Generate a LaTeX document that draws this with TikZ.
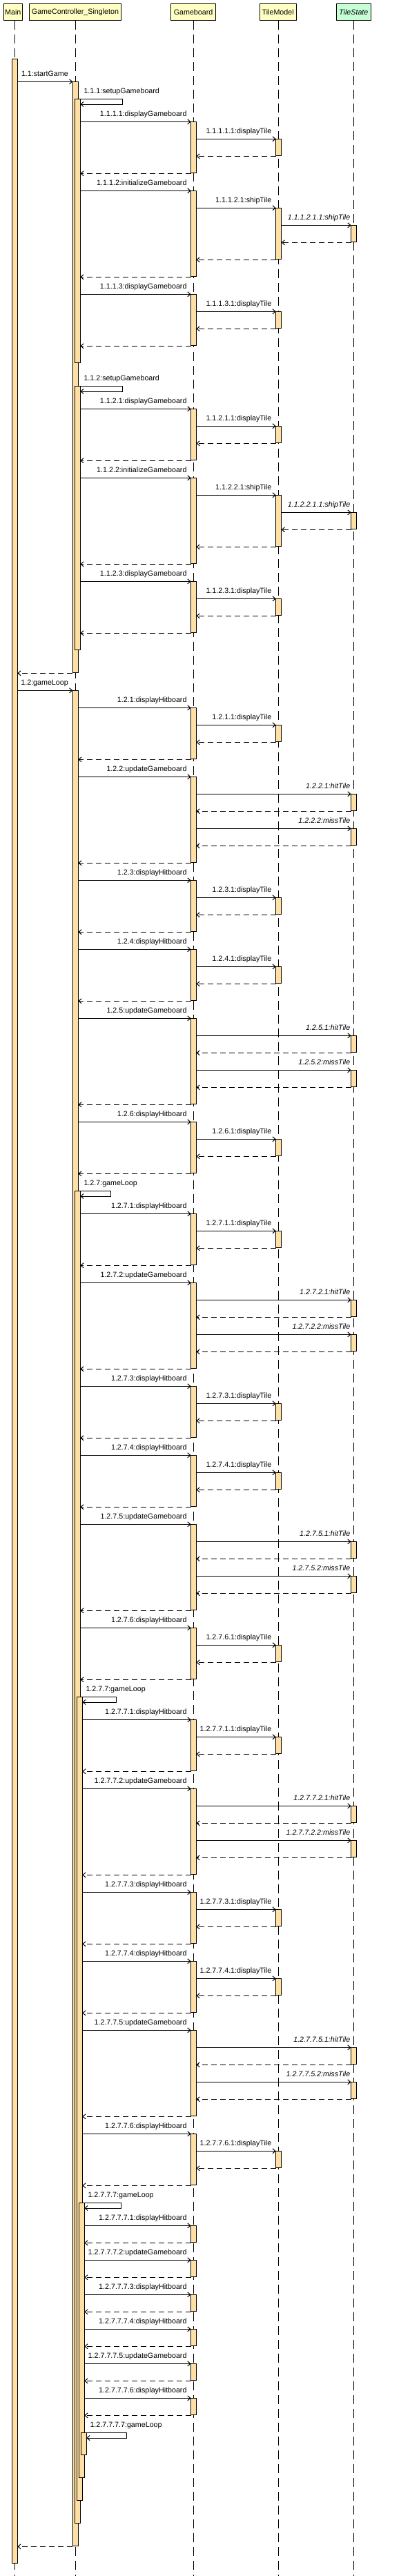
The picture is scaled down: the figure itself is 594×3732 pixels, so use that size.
\documentclass[tikz,border=0pt]{standalone}
\usepackage{fontspec}
\setmainfont{Liberation Sans}
\usetikzlibrary{arrows.meta}
\definecolor{barfill}{RGB}{255,224,164}
\definecolor{boxfill}{RGB}{255,255,196}
\definecolor{tsfill}{RGB}{198,255,214}
\newcommand\lbfont{\fontsize{10.7}{12}\selectfont}
\newcounter{mc}
\newcommand\myact[3]{\draw[act] (#1,#2) rectangle (#1+8,#3);}
\newcommand\mymsg[5]{%
  \stepcounter{mc}%
  \coordinate (s\themc) at (#2,#1);
  \coordinate (t\themc) at (#3,#1);
  \draw[msgline] (s\themc) -- (t\themc);
  \node[lbl] (l\themc) at (#5,#1-8) {#4};
}
\newcommand\myret[3]{%
  \stepcounter{mc}%
  \coordinate (s\themc) at (#2,#1);
  \coordinate (t\themc) at (#3,#1);
  \draw[retline] (s\themc) -- (t\themc);
}
\newcommand\myself[5]{%
  \stepcounter{mc}%
  \coordinate (s\themc) at (#2,#1);
  \coordinate (t\themc) at (#4,#1+7.7);
  \draw[msgline] (s\themc) -- (#3,#1) -- (#3,#1+7.7) -- (t\themc);
  \node[lbl,anchor=base west] (l\themc) at (#4+5,#1-8) {#5};
}
\newcommand\dispGB[4]{%
  \myact{276.5}{#1}{#1+74}%
  \myact{399.7}{#1+25}{#1+49}%
  \mymsg{#1}{#2}{276.5}{#3}{270.7}%
  \mymsg{#1+25}{284.5}{399.7}{#4}{393.5}%
  \myret{#1+50}{399.7}{284.5}%
  \myret{#1+75}{276.5}{#2}%
}
\newcommand\initGB[5]{%
  \myact{276.5}{#1}{#1+124}%
  \myact{399.7}{#1+25}{#1+99}%
  \myact{508.5}{#1+50}{#1+74}%
  \mymsg{#1}{#2}{276.5}{#3}{270.7}%
  \mymsg{#1+25}{284.5}{399.7}{#4}{393.5}%
  \mymsg{#1+50}{407.7}{508.5}{\itshape #5}{507.5}%
  \myret{#1+75}{508.5}{407.7}%
  \myret{#1+100}{399.7}{284.5}%
  \myret{#1+125}{276.5}{#2}%
}
\newcommand\updGB[5]{%
  \myact{276.5}{#1}{#1+124}%
  \myact{508.5}{#1+25}{#1+49}%
  \myact{508.5}{#1+75}{#1+99}%
  \mymsg{#1}{#2}{276.5}{#3}{270.7}%
  \mymsg{#1+25}{284.5}{508.5}{\itshape #4}{507.5}%
  \myret{#1+50}{508.5}{284.5}%
  \mymsg{#1+75}{284.5}{508.5}{\itshape #5}{507.5}%
  \myret{#1+100}{508.5}{284.5}%
  \myret{#1+125}{276.5}{#2}%
}
\newcommand\simpleGB[3]{%
  \myact{276.5}{#1}{#1+24}%
  \mymsg{#1}{#2}{276.5}{#3}{270.7}%
  \myret{#1+25}{276.5}{#2}%
}
\begin{document}
\begin{tikzpicture}[x=1pt,y=-1pt,
  act/.style={draw=black,fill=barfill,line width=1pt},
  objbox/.style={draw=black,fill=boxfill,line width=1pt,minimum height=24pt,inner sep=0pt,font=\lbfont},
  msgline/.style={line width=1pt,-{Straight Barb[length=4pt,width=7pt]}},
  retline/.style={msgline,dash pattern=on 8pt off 5pt},
  lifeline/.style={line width=1pt,dash pattern=on 13pt off 7pt},
  lbl/.style={font=\lbfont,anchor=base east,inner sep=0pt}]
\useasboundingbox (0,0) rectangle (594,3732);
\fill[white] (0,0) rectangle (594,3732);
% objects
\node[objbox,minimum width=27pt] (main) at (18.8,17.3) {Main};
\node[objbox,minimum width=132.6pt] (gc) at (109,17.3) {GameController\_Singleton};
\node[objbox,minimum width=65.2pt] (gb) at (280.1,17.3) {Gameboard};
\node[objbox,minimum width=53.3pt] (tm) at (402.7,17.3) {TileModel};
\node[objbox,fill=tsfill,minimum width=50pt] (ts) at (512.3,17.3) {\itshape TileState};
% lifelines
\coordinate (mainEnd) at (21.3,3732);
\coordinate (gcEnd) at (109.3,3732);
\coordinate (gbEnd) at (280.5,3732);
\coordinate (tmEnd) at (403.7,3732);
\coordinate (tsEnd) at (512.5,3732);
\draw[lifeline] (main.south -| mainEnd) -- (mainEnd);
\draw[lifeline] (gc.south -| gcEnd) -- (gcEnd);
\draw[lifeline] (gb.south -| gbEnd) -- (gbEnd);
\draw[lifeline] (tm.south -| tmEnd) -- (tmEnd);
\draw[lifeline] (ts.south -| tsEnd) -- (tsEnd);
% activation bars of Main and GameController
\myact{17.3}{85.3}{3713.3}
\myact{105.3}{118.3}{974.3}
\myact{105.3}{1000.3}{3688.3}
\myact{108.3}{143.3}{525}
\myact{108.3}{559.3}{941.3}
\myact{108.3}{1725.3}{3655.3}
\myact{111.3}{2458.3}{3622}
\myact{114.3}{3191.3}{3589}
\myact{117.3}{3524.3}{3556}
% messages
\mymsg{118.3}{25.3}{105.3}{1.1:startGame}{99}
\myself{143.3}{113.3}{177.7}{116.3}{1.1.1:setupGameboard}
\dispGB{176.3}{116.3}{1.1.1.1:displayGameboard}{1.1.1.1.1:displayTile}
\initGB{276.3}{116.3}{1.1.1.2:initializeGameboard}{1.1.1.2.1:shipTile}{1.1.1.2.1.1:shipTile}
\dispGB{426.3}{116.3}{1.1.1.3:displayGameboard}{1.1.1.3.1:displayTile}
\myself{559.3}{113.3}{177.7}{116.3}{1.1.2:setupGameboard}
\dispGB{592.3}{116.3}{1.1.2.1:displayGameboard}{1.1.2.1.1:displayTile}
\initGB{692.3}{116.3}{1.1.2.2:initializeGameboard}{1.1.2.2.1:shipTile}{1.1.2.2.1.1:shipTile}
\dispGB{842.3}{116.3}{1.1.2.3:displayGameboard}{1.1.2.3.1:displayTile}
\myret{975.3}{105.3}{25.3}
\mymsg{1000.3}{25.3}{105.3}{1.2:gameLoop}{99}
\dispGB{1025.3}{113.3}{1.2.1:displayHitboard}{1.2.1.1:displayTile}
\updGB{1125.3}{113.3}{1.2.2:updateGameboard}{1.2.2.1:hitTile}{1.2.2.2:missTile}
\dispGB{1275.3}{113.3}{1.2.3:displayHitboard}{1.2.3.1:displayTile}
\dispGB{1375.3}{113.3}{1.2.4:displayHitboard}{1.2.4.1:displayTile}
\updGB{1475.3}{113.3}{1.2.5:updateGameboard}{1.2.5.1:hitTile}{1.2.5.2:missTile}
\dispGB{1625.3}{113.3}{1.2.6:displayHitboard}{1.2.6.1:displayTile}
\myself{1725.3}{113.3}{160.3}{116.3}{1.2.7:gameLoop}
\dispGB{1758.3}{116.3}{1.2.7.1:displayHitboard}{1.2.7.1.1:displayTile}
\updGB{1858.3}{116.3}{1.2.7.2:updateGameboard}{1.2.7.2.1:hitTile}{1.2.7.2.2:missTile}
\dispGB{2008.3}{116.3}{1.2.7.3:displayHitboard}{1.2.7.3.1:displayTile}
\dispGB{2108.3}{116.3}{1.2.7.4:displayHitboard}{1.2.7.4.1:displayTile}
\updGB{2208.3}{116.3}{1.2.7.5:updateGameboard}{1.2.7.5.1:hitTile}{1.2.7.5.2:missTile}
\dispGB{2358.3}{116.3}{1.2.7.6:displayHitboard}{1.2.7.6.1:displayTile}
\myself{2458.3}{116.3}{168.3}{119.3}{1.2.7.7:gameLoop}
\dispGB{2491.3}{119.3}{1.2.7.7.1:displayHitboard}{1.2.7.7.1.1:displayTile}
\updGB{2591.3}{119.3}{1.2.7.7.2:updateGameboard}{1.2.7.7.2.1:hitTile}{1.2.7.7.2.2:missTile}
\dispGB{2741.3}{119.3}{1.2.7.7.3:displayHitboard}{1.2.7.7.3.1:displayTile}
\dispGB{2841.3}{119.3}{1.2.7.7.4:displayHitboard}{1.2.7.7.4.1:displayTile}
\updGB{2941.3}{119.3}{1.2.7.7.5:updateGameboard}{1.2.7.7.5.1:hitTile}{1.2.7.7.5.2:missTile}
\dispGB{3091.3}{119.3}{1.2.7.7.6:displayHitboard}{1.2.7.7.6.1:displayTile}
\myself{3191.3}{119.3}{175.5}{122.3}{1.2.7.7.7:gameLoop}
\simpleGB{3224.3}{122.3}{1.2.7.7.7.1:displayHitboard}
\simpleGB{3274.3}{122.3}{1.2.7.7.7.2:updateGameboard}
\simpleGB{3324.3}{122.3}{1.2.7.7.7.3:displayHitboard}
\simpleGB{3374.3}{122.3}{1.2.7.7.7.4:displayHitboard}
\simpleGB{3424.3}{122.3}{1.2.7.7.7.5:updateGameboard}
\simpleGB{3474.3}{122.3}{1.2.7.7.7.6:displayHitboard}
\myself{3524.3}{122.3}{183.9}{125.3}{1.2.7.7.7.7:gameLoop}
\myret{3689.3}{105.3}{25.3}
\end{tikzpicture}
\end{document}
